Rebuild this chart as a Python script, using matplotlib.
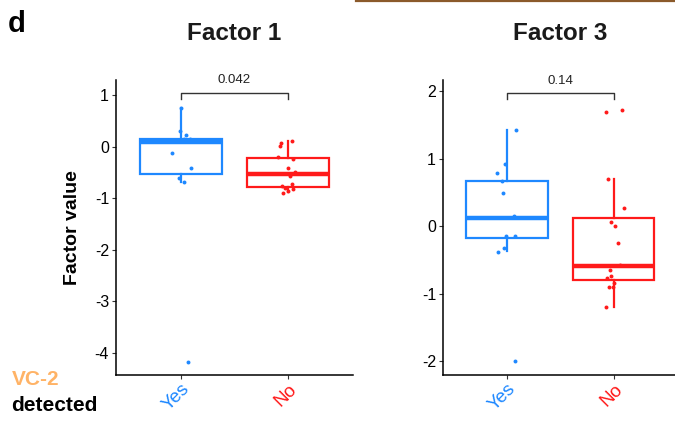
import matplotlib
matplotlib.use("Agg")
import matplotlib.pyplot as plt
from matplotlib.lines import Line2D

plt.rcParams['font.family'] = ['Liberation Sans', 'DejaVu Sans']
plt.rcParams['axes.unicode_minus'] = False

BLUE = '#1E88FF'
RED = '#FF1A1A'
ORANGE = '#FFB366'

groups = ['Yes', 'No']

# Factor 1: box statistics (whislo, q1, median, q3, whishi) per group
f1_stats_yes = [-0.69, -0.52, 0.10, 0.155, 0.76]
f1_stats_no = [-0.88, -0.78, -0.52, -0.22, 0.12]
# Factor 1: observed values and horizontal jitter
f1_yes = [0.76, 0.30, 0.23, 0.15, 0.15, -0.12, -0.40, -0.61, -0.69, -4.18]
f1_yes_jit = [0.0, -0.006, 0.046, 0.03, 0.086, -0.083, 0.10, -0.02, 0.03, 0.065]
f1_no = [0.02, 0.08, 0.11, -0.20, -0.24, -0.40, -0.48, -0.56, -0.76, -0.79,
         -0.72, -0.82, -0.89, -0.85]
f1_no_jit = [-0.08, -0.065, 0.034, -0.095, 0.043, 0.0, 0.065, 0.012, -0.058,
             -0.028, 0.034, 0.043, -0.049, 0.0]
f1_p = '0.042'

# Factor 3
f3_stats_yes = [-0.37, -0.17, 0.12, 0.68, 1.43]
f3_stats_no = [-1.19, -0.79, -0.59, 0.12, 0.70]
f3_yes = [1.43, 0.93, 0.79, 0.68, 0.49, 0.15, -0.14, -0.14, -0.32, -0.38, -2.0]
f3_yes_jit = [0.087, -0.016, -0.093, -0.047, -0.037, 0.068, -0.006, 0.077,
              -0.031, -0.088, 0.071]
f3_no = [1.69, 1.73, 0.70, 0.27, 0.07, 0.00, -0.24, -0.57, -0.65, -0.73,
         -0.77, -0.84, -0.89, -0.89, -1.20]
f3_no_jit = [-0.075, 0.075, -0.053, 0.093, -0.028, 0.012, 0.04, 0.062, -0.037,
             -0.028, -0.062, 0.003, -0.047, -0.012, -0.077]
f3_p = '0.14'


def to_stats(s):
    lo, q1, med, q3, hi = s
    return dict(whislo=lo, q1=q1, med=med, q3=q3, whishi=hi, fliers=[])


def draw_panel(ax, stats, values, jitters, p_label, bracket, ylim, yticks):
    colors = [BLUE, RED]
    for i, (st, col) in enumerate(zip(stats, colors)):
        ax.bxp([to_stats(st)], positions=[i + 1], widths=0.76,
               showcaps=False, showfliers=False, patch_artist=True,
               boxprops=dict(facecolor='white', edgecolor=col, linewidth=1.6),
               whiskerprops=dict(color=col, linewidth=1.6),
               medianprops=dict(color=col, linewidth=3.2, solid_capstyle='butt'),
               zorder=2)
    for i, (vals, jit, col) in enumerate(zip(values, jitters, colors)):
        xs = [i + 1 + j for j in jit]
        ax.scatter(xs, vals, s=8, color=col, zorder=3, linewidths=0)

    lo, hi, txt_y = bracket
    ax.plot([1, 1, 2, 2], [lo, hi, hi, lo], color='#333333', lw=1.0,
            clip_on=False, zorder=4)
    ax.text(1.5, txt_y, p_label, ha='center', va='bottom', fontsize=9.5,
            color='#222222')

    ax.set_xlim(0.4, 2.6)
    ax.set_ylim(*ylim)
    ax.set_yticks(yticks)
    ax.set_xticks([1, 2])
    ax.set_xticklabels(groups, rotation=45, ha='right', rotation_mode='anchor',
                       fontsize=13.5)
    for lbl, col in zip(ax.get_xticklabels(), colors):
        lbl.set_color(col)
    ax.tick_params(axis='y', labelsize=11.5, length=3, color='#333333',
                   labelcolor='black', pad=2)
    ax.tick_params(axis='x', length=3, color='#333333', pad=1)
    for side in ('top', 'right'):
        ax.spines[side].set_visible(False)
    for side in ('left', 'bottom'):
        ax.spines[side].set_linewidth(1.1)
        ax.spines[side].set_color('black')


fig = plt.figure(figsize=(6.75, 4.23), dpi=100)
ax1 = fig.add_axes([0.1719, 0.1135, 0.3511, 0.6974])
ax3 = fig.add_axes([0.6563, 0.1135, 0.348, 0.6974])

draw_panel(ax1, [f1_stats_yes, f1_stats_no], [f1_yes, f1_no],
           [f1_yes_jit, f1_no_jit], f1_p, (0.93, 1.04, 1.19),
           (-4.43, 1.30), [-4, -3, -2, -1, 0, 1])
draw_panel(ax3, [f3_stats_yes, f3_stats_no], [f3_yes, f3_no],
           [f3_yes_jit, f3_no_jit], f3_p, (1.89, 1.97, 2.06),
           (-2.2, 2.17), [-2, -1, 0, 1, 2])

ax1.set_ylabel('Factor value', fontsize=14, fontweight='bold', labelpad=10)

fig.text(0.347, 1 - 33 / 423, 'Factor 1', ha='center', va='center',
         fontsize=17.5, fontweight='bold', color='#1a1a1a')
fig.text(0.830, 1 - 33 / 423, 'Factor 3', ha='center', va='center',
         fontsize=17.5, fontweight='bold', color='#1a1a1a')
fig.text(0.012, 1 - 24 / 423, 'd', ha='left', va='center',
         fontsize=21, fontweight='bold')
fig.text(0.017, 1 - 379 / 423, 'VC-2', ha='left', va='center',
         fontsize=15, fontweight='bold', color=ORANGE)
fig.text(0.017, 1 - 405 / 423, 'detected', ha='left', va='center',
         fontsize=15, fontweight='bold', color='black')

# edge of the neighbouring panel above
fig.add_artist(Line2D([356 / 675, 1.0], [1 - 1 / 423, 1 - 1 / 423],
                      color='#8B5A2B', lw=1.6, transform=fig.transFigure))

fig.savefig('out.png', dpi=100)
